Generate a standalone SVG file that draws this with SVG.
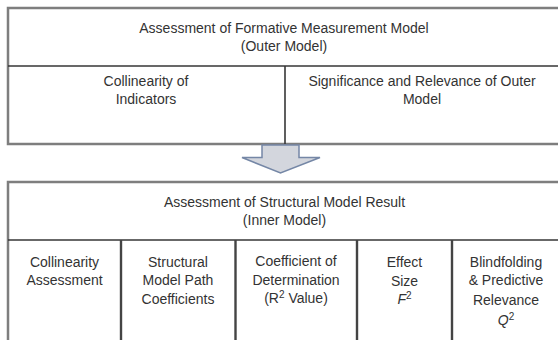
<svg xmlns="http://www.w3.org/2000/svg" width="558" height="340" viewBox="0 0 558 340">
  <style>
    text { font-family: "Liberation Sans", Arial, sans-serif; font-size: 14px; fill: #333333; text-anchor: middle; }
    .frame { fill: #ffffff; stroke: #7e7e7e; stroke-width: 2.5; }
    .rule { stroke: #363636; stroke-width: 1.6; fill: none; }
    .col { stroke: #444444; stroke-width: 2.4; fill: none; }
    .flow { fill: #d3d6dd; stroke: #7587a6; stroke-width: 1.5; stroke-linejoin: miter; }
    .sup { font-size: 10px; }
  </style>

  <!-- Outer model assessment -->
  <g id="outer-model">
    <rect class="frame" x="8" y="8" width="560" height="136"/>
    <line class="rule" x1="8" y1="66" x2="568" y2="66"/>
    <line class="rule" x1="285" y1="66" x2="285" y2="144"/>
    <text x="284" y="33">Assessment of Formative Measurement Model</text>
    <text x="284" y="51">(Outer Model)</text>
  </g>
  <g id="collinearity-indicators">
    <text x="146" y="86">Collinearity of</text>
    <text x="146" y="104">Indicators</text>
  </g>
  <g id="significance-relevance">
    <text x="422" y="86">Significance and Relevance of Outer</text>
    <text x="422" y="104">Model</text>
  </g>

  <!-- Transition between the two stages -->
  <g id="connectors">
    <path class="flow" d="M262,145 L299,145 L299,157.5 L320,157.5 L280.5,173 L242,157.5 L262,157.5 Z"/>
  </g>

  <!-- Inner model assessment -->
  <g id="inner-model">
    <rect class="frame" x="8" y="182" width="560" height="170"/>
    <line class="rule" x1="8" y1="240" x2="568" y2="240"/>
    <line class="col" x1="121" y1="240" x2="121" y2="352"/>
    <line class="col" x1="235.5" y1="240" x2="235.5" y2="352"/>
    <line class="col" x1="357" y1="240" x2="357" y2="352"/>
    <line class="col" x1="452" y1="240" x2="452" y2="352"/>
    <text x="284.5" y="207">Assessment of Structural Model Result</text>
    <text x="284.5" y="225">(Inner Model)</text>
  </g>
  <g id="collinearity-assessment">
    <text x="64.5" y="267">Collinearity</text>
    <text x="64.5" y="285">Assessment</text>
  </g>
  <g id="path-coefficients">
    <text x="178" y="267">Structural</text>
    <text x="178" y="285">Model Path</text>
    <text x="178" y="304">Coefficients</text>
  </g>
  <g id="determination">
    <text x="296" y="266">Coefficient of</text>
    <text x="296" y="285">Determination</text>
    <text x="296" y="303">(R<tspan class="sup" dy="-5">2</tspan><tspan dy="5"> Value)</tspan></text>
  </g>
  <g id="effect-size">
    <text x="404.5" y="267">Effect</text>
    <text x="404.5" y="286">Size</text>
    <text x="404.5" y="304"><tspan font-style="italic">F</tspan><tspan class="sup" dy="-5">2</tspan></text>
  </g>
  <g id="predictive-relevance">
    <text x="506" y="267">Blindfolding</text>
    <text x="506" y="285">&amp; Predictive</text>
    <text x="506" y="305">Relevance</text>
    <text x="506" y="325"><tspan font-style="italic">Q</tspan><tspan class="sup" dy="-5">2</tspan></text>
  </g>
</svg>
